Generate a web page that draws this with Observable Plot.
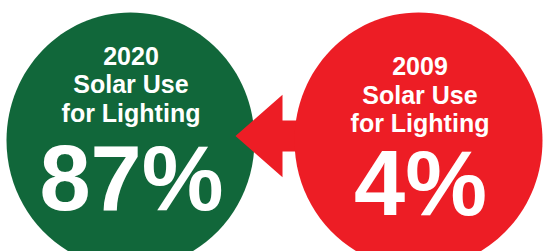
<!DOCTYPE html>
<html>
<head>
<meta charset="utf-8">
<script src="https://cdn.jsdelivr.net/npm/d3@7"></script>
<script src="https://cdn.jsdelivr.net/npm/@observablehq/plot@0.6"></script>
<style>
  html, body { margin: 0; padding: 0; background: #fff; }
  #chart svg { display: block; }
</style>
</head>
<body>
<div id="chart"></div>
<script>
// ---- data ----
const years = ["2020", "2009"];
const shares = [87, 4];
const captionLines = ["Solar Use", "for Lighting"];
const fills = ["#11673A", "#ED1D25"];

// ---- table built from the arrays ----
const table = years.map((year, i) => ({
  year,
  share: shares[i],
  label: [year, ...captionLines].join("\n"),
  fill: fills[i]
}));

// ---- layout (not data) ----
const headerBaseline = [121, 131.5];
const valueBaseline = [209, 214];
const font = "'Liberation Sans', Arial, Helvetica, sans-serif";

// slightly tall ellipse symbol
const ellipse = {
  draw(ctx, size) {
    const rx = Math.sqrt(size / Math.PI), ry = rx * 1.032, k = 0.5522847;
    ctx.moveTo(rx, 0);
    ctx.bezierCurveTo(rx, k * ry, k * rx, ry, 0, ry);
    ctx.bezierCurveTo(-k * rx, ry, -rx, k * ry, -rx, 0);
    ctx.bezierCurveTo(-rx, -k * ry, -k * rx, -ry, 0, -ry);
    ctx.bezierCurveTo(k * rx, -ry, rx, -k * ry, rx, 0);
    ctx.closePath();
  }
};

// left-pointing block arrow, origin at the tip
const arrow = {
  draw(ctx, size) {
    const L = Math.sqrt(size / Math.PI);
    const hh = L * 0.88, sh = L * 0.33, tail = L * 1.7;
    ctx.moveTo(0, 0);
    ctx.lineTo(L, -hh);
    ctx.lineTo(L, -sh);
    ctx.lineTo(tail, -sh);
    ctx.lineTo(tail, sh);
    ctx.lineTo(L, sh);
    ctx.lineTo(L, hh);
    ctx.closePath();
  }
};

function circleMarks(i) {
  const d = [table[i]];
  return [
    Plot.dot(d, {x: "year", r: 124, symbol: ellipse, fill: fills[i], stroke: "none", dy: 14.5}),
    Plot.text(d, {
      x: "year", text: "label", frameAnchor: "top", lineAnchor: "bottom",
      dy: headerBaseline[i], dx: i ? 1.5 : 0.5, fontSize: 25, lineHeight: 1.14,
      fontWeight: "bold", fontFamily: font, fill: "white"
    }),
    Plot.text(d, {
      x: "year", text: (r) => r.share + "%", frameAnchor: "top", lineAnchor: "bottom",
      dy: valueBaseline[i], dx: i ? 2 : 1, fontSize: 92,
      fontWeight: "bold", fontFamily: font, fill: "white"
    })
  ];
}

const chart = Plot.plot({
  width: 543,
  height: 251,
  margin: 0,
  style: {background: "white", overflow: "hidden"},
  x: {type: "point", domain: years, range: [130, 418], padding: 0, axis: null},
  marks: [
    ...circleMarks(0),
    Plot.dot([table[0]], {x: "year", r: 47, symbol: arrow, fill: fills[1], stroke: "none", dx: 105, dy: 10}),
    ...circleMarks(1)
  ]
});

document.getElementById("chart").appendChild(chart);
</script>
</body>
</html>
